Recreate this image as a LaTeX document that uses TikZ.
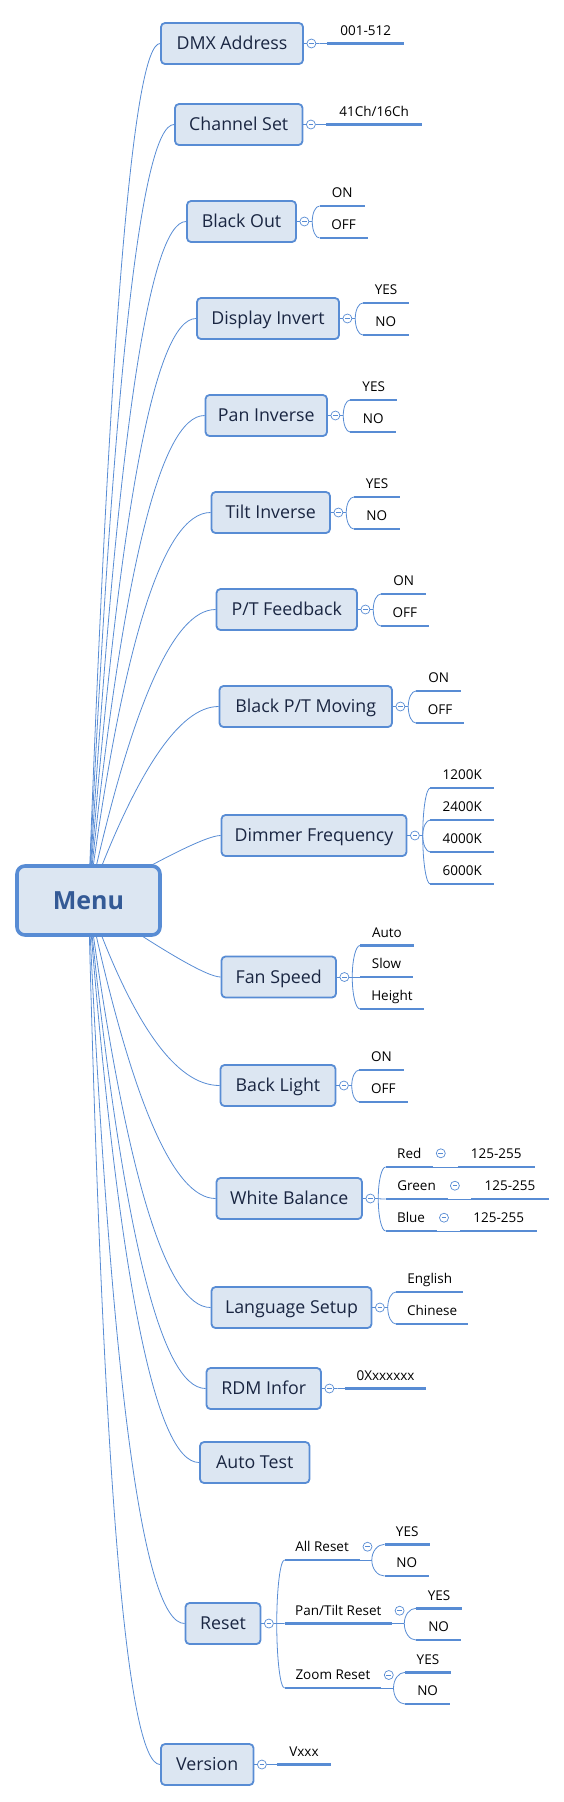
\documentclass[tikz,border=0pt]{standalone}
\usepackage{fontspec}
\setmainfont{Open Sans}
\usetikzlibrary{calc}
\definecolor{bfill}{RGB}{220,230,242}
\definecolor{bline}{RGB}{88,140,212}
\definecolor{btext}{RGB}{26,38,66}
\definecolor{mtext}{RGB}{52,90,150}
\pgfdeclarelayer{bg}
\pgfsetlayers{bg,main}
\newcommand\mmroot[2]{%
  \coordinate (q#1) at ($(menu.center |- #1.west)!#2!(#1.west)$);
  \begin{pgfonlayer}{bg}
  \draw[conn] (menu.center) .. controls ($(menu.center)!0.667!(q#1)$) and ($(#1.west)!0.667!(q#1)$) .. (#1.west);
  \end{pgfonlayer}}
\newcommand\mmfork[2]{\draw[conn] (#1) .. controls ($(#1)!0.55!(#1 |- #2)$) and ($(#2)!0.55!(#1 |- #2)$) .. (#2);}
\newcommand\mmtog[2]{\node[tog] (#1) at (#2) {}; \draw[togm] ($(#1.center)+(-2.4,0)$) -- ($(#1.center)+(2.4,0)$);}
\newcommand\mmleaf[5]{\node[leaf, minimum width=#4pt] (#1) at (#2,#3) {#5}; \draw[uline] (#1.south west) -- (#1.south east);}
\newcommand\mmbranch[5]{% name, cx, cy, width, text
  \node[box, minimum width=#4pt] (#1) at (#2,#3) {#5};}
\begin{document}
\begin{tikzpicture}[x=1pt,y=-1pt,
  box/.style={draw=bline, line width=1.8pt, fill=bfill, rounded corners=4pt, minimum height=41pt, inner sep=0pt, text=btext, font=\fontsize{17.8}{18}\selectfont, text height=12.7pt, text depth=0pt},
  root/.style={draw=bline, line width=3.6pt, fill=bfill, rounded corners=8pt, inner sep=0pt, text=mtext, font=\bfseries\fontsize{25}{25}\selectfont, text height=17.9pt, text depth=0pt},
  leaf/.style={anchor=south west, inner sep=0pt, text height=10pt, text depth=8pt, font=\fontsize{13.5}{14}\selectfont, text=black},
  uline/.style={draw=bline, line width=2.8pt},
  conn/.style={draw=bline, line width=0.8pt},
  tog/.style={circle, draw=bline, line width=0.7pt, fill=white, minimum size=9pt, inner sep=0pt},
  togm/.style={draw=bline, line width=0.7pt}]
\useasboundingbox (0,0) rectangle (564,1802);

\node[root, minimum width=143pt, minimum height=69pt] (menu) at (88.5,900.5) {Menu};

\mmbranch{b1}{232}{43.5}{142}{DMX Address}
\mmbranch{b2}{238.75}{124.5}{127.5}{Channel Set}
\mmbranch{b3}{241.5}{221.5}{109}{Black Out}
\mmbranch{b4}{268}{318.5}{142}{Display Invert}
\mmbranch{b5}{266.25}{415.5}{121.5}{Pan Inverse}
\mmbranch{b6}{270.75}{512.5}{118.5}{Tilt Inverse}
\mmbranch{b7}{286.75}{609.5}{140.5}{P/T Feedback}
\mmbranch{b8}{305.75}{706.5}{172.5}{Black P/T Moving}
\mmbranch{b9}{314}{835.5}{185}{Dimmer Frequency}
\mmbranch{b10}{278.75}{977}{114.5}{Fan Speed}
\mmbranch{b11}{278}{1085.5}{115}{Back Light}
\mmbranch{b12}{289.25}{1198.5}{145.5}{White Balance}
\mmbranch{b13}{291.5}{1307.5}{160}{Language Setup}
\mmbranch{b14}{263.75}{1388.5}{114.5}{RDM Infor}
\mmbranch{b15}{254.75}{1462.5}{109.5}{Auto Test}
\mmbranch{b16}{223}{1623.5}{75}{Reset}
\mmbranch{b17}{207.25}{1764.5}{92.5}{Version}

\mmroot{b1}{0.44}
\mmroot{b2}{0.42}
\mmroot{b3}{0.42}
\mmroot{b4}{0.42}
\mmroot{b5}{0.42}
\mmroot{b6}{0.42}
\mmroot{b7}{0.5}
\mmroot{b8}{0.55}
\mmroot{b9}{0.85}
\mmroot{b10}{0.85}
\mmroot{b11}{0.5}
\mmroot{b12}{0.5}
\mmroot{b13}{0.45}
\mmroot{b14}{0.42}
\mmroot{b15}{0.4}
\mmroot{b16}{0.35}
\mmroot{b17}{0.3}

% toggles of the branches
\foreach \b in {1,2,3,4,5,6,7,8,9,10,11,12,13,14,16,17}{
  \mmtog{c\b}{$(b\b.east)+(7.5,0)$}
  \draw[conn] (b\b.east) -- (c\b.west);
  \coordinate (f\b) at ($(c\b.east)+(3,0)$);
  \draw[conn] (c\b.east) -- (f\b);
}

% 1 DMX Address
\mmleaf{l1}{327}{43.5}{77}{001-512}
\mmfork{f1}{l1.south west}
% 2 Channel Set
\mmleaf{l2}{326}{124.5}{96}{41Ch/16Ch}
\mmfork{f2}{l2.south west}
% 3 Black Out
\mmleaf{l3a}{319.5}{206}{45}{ON}
\mmleaf{l3b}{319.5}{238}{48}{OFF}
\mmfork{f3}{l3a.south west}
\mmfork{f3}{l3b.south west}
% 4 Display Invert
\mmleaf{l4a}{362.8}{303}{46}{YES}
\mmleaf{l4b}{362.8}{335}{45.5}{NO}
\mmfork{f4}{l4a.south west}
\mmfork{f4}{l4b.south west}
% 5 Pan Inverse
\mmleaf{l5a}{350}{400}{47}{YES}
\mmleaf{l5b}{350}{432}{46}{NO}
\mmfork{f5}{l5a.south west}
\mmfork{f5}{l5b.south west}
% 6 Tilt Inverse
\mmleaf{l6a}{353.8}{497}{46}{YES}
\mmleaf{l6b}{353.8}{529}{45.5}{NO}
\mmfork{f6}{l6a.south west}
\mmfork{f6}{l6b.south west}
% 7 P/T Feedback
\mmleaf{l7a}{380.9}{594}{45}{ON}
\mmleaf{l7b}{380.9}{626}{47.5}{OFF}
\mmfork{f7}{l7a.south west}
\mmfork{f7}{l7b.south west}
% 8 Black P/T Moving
\mmleaf{l8a}{415.9}{691}{45}{ON}
\mmleaf{l8b}{415.9}{723}{48}{OFF}
\mmfork{f8}{l8a.south west}
\mmfork{f8}{l8b.south west}
% 9 Dimmer Frequency
\mmleaf{l9a}{430.3}{788}{63.5}{1200K}
\mmleaf{l9b}{430.3}{820}{63.5}{2400K}
\mmleaf{l9c}{430.3}{852}{63.5}{4000K}
\mmleaf{l9d}{430.3}{884}{63.5}{6000K}
\mmfork{f9}{l9a.south west}
\mmfork{f9}{l9b.south west}
\mmfork{f9}{l9c.south west}
\mmfork{f9}{l9d.south west}
% 10 Fan Speed
\mmleaf{l10a}{360}{945.5}{53.5}{Auto}
\mmleaf{l10b}{360}{977}{52.5}{Slow}
\mmleaf{l10c}{360}{1009}{63.5}{Height}
\mmfork{f10}{l10a.south west}
\mmfork{f10}{l10b.south west}
\mmfork{f10}{l10c.south west}
% 11 Back Light
\mmleaf{l11a}{359.2}{1070}{44}{ON}
\mmleaf{l11b}{359.2}{1102}{48}{OFF}
\mmfork{f11}{l11a.south west}
\mmfork{f11}{l11b.south west}
% 12 White Balance
\mmleaf{l12a}{385.6}{1167}{47}{Red}
\mmleaf{l12b}{385.6}{1199}{61.5}{Green}
\mmleaf{l12c}{385.6}{1231}{50.5}{Blue}
\mmfork{f12}{l12a.south west}
\mmfork{f12}{l12b.south west}
\mmfork{f12}{l12c.south west}
\mmtog{c12a}{440.8,1153.3}
\mmtog{c12b}{454.9,1185.7}
\mmtog{c12c}{444,1217.7}
\mmleaf{v12a}{457.8}{1167}{76.5}{125-255}
\mmleaf{v12b}{471}{1199}{77.7}{125-255}
\mmleaf{v12c}{460}{1231}{77}{125-255}
\draw[conn] (l12a.south east) -- (v12a.south west);
\draw[conn] (l12b.south east) -- (v12b.south west);
\draw[conn] (l12c.south east) -- (v12c.south west);
% 13 Language Setup
\mmleaf{l13a}{396}{1292}{67}{English}
\mmleaf{l13b}{396}{1324}{72}{Chinese}
\mmfork{f13}{l13a.south west}
\mmfork{f13}{l13b.south west}
% 14 RDM Infor
\mmleaf{l14}{344.8}{1388.5}{81}{0Xxxxxxx}
\mmfork{f14}{l14.south west}
% 16 Reset
\mmleaf{l16a}{284.5}{1560}{74.7}{All Reset}
\mmleaf{l16b}{284.5}{1623.5}{107.2}{Pan/Tilt Reset}
\mmleaf{l16c}{284.5}{1688}{96.4}{Zoom Reset}
\mmfork{f16}{l16a.south west}
\mmfork{f16}{l16b.south west}
\mmfork{f16}{l16c.south west}
% All Reset
\mmtog{c16a}{367.5,1546.7}
\coordinate (f16a) at (371.8,1560);
\draw[conn] (l16a.south east) -- (f16a);
\mmleaf{y16a}{384.5}{1544.3}{45}{YES}
\mmleaf{n16a}{384.5}{1576}{44}{NO}
\mmfork{f16a}{y16a.south west}
\mmfork{f16a}{n16a.south west}
% Pan/Tilt Reset
\mmtog{c16b}{399.6,1610.7}
\coordinate (f16b) at (404.3,1623.5);
\draw[conn] (l16b.south east) -- (f16b);
\mmleaf{y16b}{415.9}{1608.3}{46}{YES}
\mmleaf{n16b}{415.9}{1640}{45}{NO}
\mmfork{f16b}{y16b.south west}
\mmfork{f16b}{n16b.south west}
% Zoom Reset
\mmtog{c16c}{388.8,1675}
\coordinate (f16c) at (393.5,1688);
\draw[conn] (l16c.south east) -- (f16c);
\mmleaf{y16c}{405}{1672.3}{45.5}{YES}
\mmleaf{n16c}{405}{1704}{44.8}{NO}
\mmfork{f16c}{y16c.south west}
\mmfork{f16c}{n16c.south west}
% 17 Version
\mmleaf{l17}{277.3}{1764.5}{53}{Vxxx}
\mmfork{f17}{l17.south west}
\end{tikzpicture}
\end{document}
